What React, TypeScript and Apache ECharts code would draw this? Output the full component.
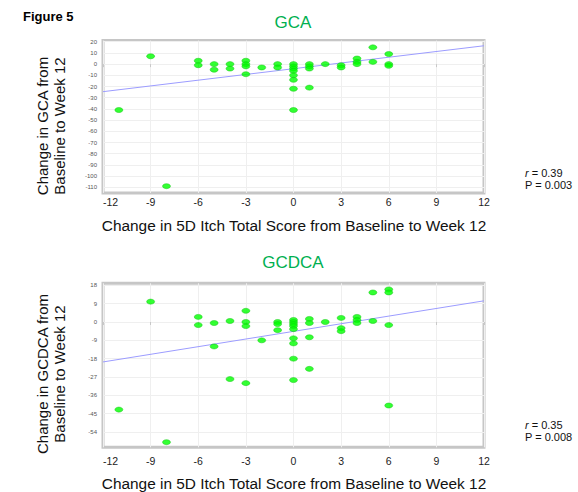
import React, { useEffect, useRef } from "react";
import * as echarts from "echarts";

// ---- Data ----
const gcaX = [-11, -9, -8, -6, -6, -5, -5, -4, -4, -3, -3, -3, -3, -2, -1, -1, 0, 0, 0, 0, 0, 0, 0, 0, 1, 1, 1, 1, 2, 3, 3, 4, 4, 4, 5, 5, 6, 6, 6];
const gcaY = [-41, 7, -109, 3, -1, 0, -5, 0, -4, 3, 0, -2, -9, -3, 0, -3, 0, -2, -4, -6, -10, -14, -22, -41, 0, -2, -4, -21, 0, -1, -3, 5, 2, 0, 15, 2, 9, 0, -1.5];
const gcdcaX = [-11, -9, -8, -6, -6, -5, -5, -4, -4, -3, -3, -3, -3, -2, -1, -1, -1, 0, 0, 0, 0, 0, 0, 0, 0, 0, 1, 1, 1, 1, 2, 3, 3, 3, 4, 4, 4, 5, 5, 6, 6, 6, 6];
const gcdcaY = [-43, 10, -59, 2.5, -1.5, -0.5, -12, 0.5, -28, 5.5, 0, -2, -30, -9, 0, -1, -4, 1, 0, -1, -2, -3.5, -8, -10.5, -18, -28.5, 1.5, -0.5, -7.5, -23, 0, 2, -3, -4.5, 2.5, 1, -0.5, 14.5, 0.5, 16, 14.5, -1.5, -41];
const fitX = [-12, 12];
const gcaFitY = [-24.6, 16.4];
const gcdcaFitY = [-19.6, 10.4];
const gcaYTicks = [20, 10, 0, -10, -20, -30, -40, -50, -60, -70, -80, -90, -100, -110];
const gcdcaYTicks = [18, 9, 0, -9, -18, -27, -36, -45, -54];
const gcaStats = ["0.39", "0.003"];
const gcdcaStats = ["0.35", "0.008"];

const FONT = "Liberation Sans, Arial, sans-serif";
const GREEN_TITLE = "#00b050";

function zip(xs: number[], ys: number[]) {
  return xs.map((x, i) => [x, ys[i]]);
}

export default function App() {
  const ref = useRef<HTMLDivElement>(null);
  useEffect(() => {
    if (!ref.current) return;
    const chart = echarts.init(ref.current, undefined, { renderer: "svg" });

    const xAxisBase = (gridIndex: number, margin: number) => ({
      type: "value",
      gridIndex,
      min: -12,
      max: 12,
      interval: 3,
      axisLine: { show: false },
      axisTick: { show: true, length: 3, lineStyle: { color: "#c8c8c8" } },
      axisLabel: {
        fontSize: 10.5,
        color: "#222",
        fontFamily: FONT,
        margin,
        alignMinLabel: "left",
      },
      splitLine: { show: true, lineStyle: { color: "#efefef", width: 1 } },
    });
    const yAxisBase = (gridIndex: number, min: number, max: number, ticks: number[]) => ({
      type: "value",
      gridIndex,
      min,
      max,
      axisLine: { show: false },
      axisTick: { show: false, customValues: ticks },
      axisLabel: {
        fontSize: 6,
        color: "#555",
        fontFamily: FONT,
        margin: 6,
        customValues: ticks,
      },
      splitLine: { show: true, lineStyle: { color: "#efefef", width: 1 } },
    });

    const scatterStyle = {
      type: "scatter",
      symbol: "circle",
      symbolSize: [8, 5],
      itemStyle: { color: "#00ff00", borderColor: "#10c810", borderWidth: 0.6 },
      z: 3,
    };
    const lineStyle = {
      type: "line",
      showSymbol: false,
      symbol: "none",
      lineStyle: { color: "#9c9cff", width: 1 },
      z: 2,
    };

    const textEl = (x: number, y: number, text: string, size: number, extra: any = {}) => ({
      type: "text",
      x,
      y,
      style: {
        text,
        fontSize: size,
        fontFamily: FONT,
        fill: "#111",
        align: "center",
        verticalAlign: "middle",
        ...extra,
      },
    });

    const statEl = (x: number, y: number, label: string, value: string, italic: boolean) => ({
      type: "text",
      x,
      y,
      style: {
        text: italic ? `{i|${label}} = ${value}` : `${label} = ${value}`,
        fontSize: 11,
        fontFamily: FONT,
        fill: "#111",
        align: "left",
        verticalAlign: "middle",
        rich: { i: { fontStyle: "italic", fontSize: 11, fontFamily: FONT, fill: "#111" } },
      },
    });

    const yTitle = (x: number, y: number, text: string) => ({
      type: "text",
      x,
      y,
      rotation: Math.PI / 2,
      style: {
        text,
        fontSize: 15,
        fontFamily: FONT,
        fill: "#111",
        align: "center",
        verticalAlign: "middle",
      },
    });

    chart.setOption({
      animation: false,
      backgroundColor: "#fff",
      grid: [
        { left: 103, top: 40.6, width: 381, height: 152.3, show: true, borderColor: "#c6c6c6", borderWidth: 3, backgroundColor: "#fff" },
        { left: 103, top: 283.3, width: 381, height: 164, show: true, borderColor: "#c6c6c6", borderWidth: 3, backgroundColor: "#fff" },
      ],
      xAxis: [xAxisBase(0, 4), xAxisBase(1, 8)],
      yAxis: [
        yAxisBase(0, -115, 21, gcaYTicks),
        yAxisBase(1, -61.5, 19, gcdcaYTicks),
      ],
      series: [
        { ...lineStyle, xAxisIndex: 0, yAxisIndex: 0, data: zip(fitX, gcaFitY) },
        { ...scatterStyle, xAxisIndex: 0, yAxisIndex: 0, data: zip(gcaX, gcaY) },
        { ...lineStyle, xAxisIndex: 1, yAxisIndex: 1, data: zip(fitX, gcdcaFitY) },
        { ...scatterStyle, xAxisIndex: 1, yAxisIndex: 1, data: zip(gcdcaX, gcdcaY) },
      ],
      graphic: [
        textEl(23, 16, "Figure 5", 13, { align: "left", fontWeight: "bold", fill: "#000" }),
        textEl(293, 22, "GCA", 17, { fill: GREEN_TITLE }),
        textEl(293, 262, "GCDCA", 17, { fill: GREEN_TITLE }),
        textEl(294, 225, "Change in 5D Itch Total Score from Baseline to Week 12", 15.4),
        textEl(294, 483, "Change in 5D Itch Total Score from Baseline to Week 12", 15.4),
        yTitle(42, 126, "Change in GCA from"),
        yTitle(59, 126, "Baseline to Week 12"),
        yTitle(42, 374, "Change in GCDCA from"),
        yTitle(59, 374, "Baseline to Week 12"),
        statEl(525, 173, "r", gcaStats[0], true),
        statEl(525, 185, "P", gcaStats[1], false),
        statEl(525, 425, "r", gcdcaStats[0], true),
        statEl(525, 437, "P", gcdcaStats[1], false),
      ],
    });
    return () => chart.dispose();
  }, []);
  return (
    <div
      ref={ref}
      style={{ position: "fixed", left: 0, top: 0, width: 578, height: 492, background: "#fff" }}
    />
  );
}
